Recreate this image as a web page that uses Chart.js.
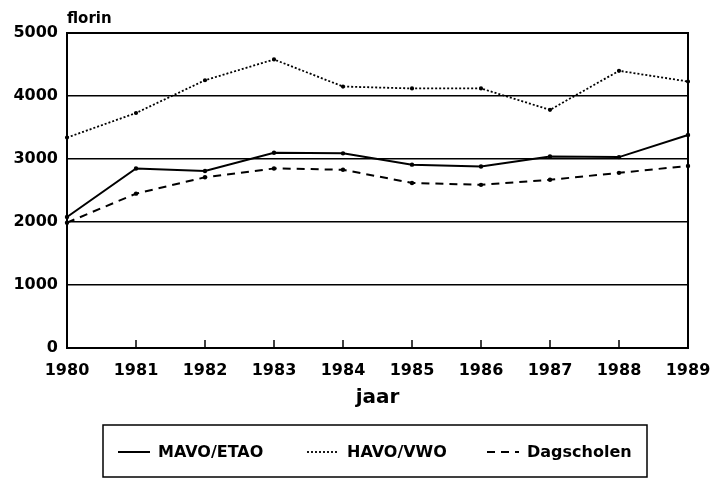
<!DOCTYPE html>
<html>
<head>
<meta charset="utf-8">
<script src="https://cdn.jsdelivr.net/npm/chart.js@4.4.1/dist/chart.umd.min.js"></script>
<style>
  html, body { margin: 0; padding: 0; background: #fff; }
  canvas { display: block; }
</style>
</head>
<body>
<canvas id="salaryChart" width="712" height="483"></canvas>
<script>
// =============================
// Data
// =============================
const years = ["1980", "1981", "1982", "1983", "1984", "1985", "1986", "1987", "1988", "1989"];
const mavoEtao = [2080, 2850, 2810, 3100, 3090, 2910, 2880, 3040, 3030, 3380];
const havoVwo = [3340, 3730, 4250, 4580, 4150, 4120, 4120, 3780, 4400, 4230];
const dagscholen = [1990, 2450, 2710, 2850, 2830, 2620, 2590, 2670, 2780, 2890];
const yTicks = [0, 1000, 2000, 3000, 4000, 5000];

const unitLabel = "florin";
const axisTitle = "jaar";

const FONT = "'DejaVu Sans', sans-serif";

// =============================
// Frame, x ticks, unit label, axis title, boxed legend
// =============================
const decorations = {
  id: "decorations",
  afterDatasetsDraw(chart) {
    const { ctx, chartArea: area, scales } = chart;
    ctx.save();

    // top + right edges of the plot frame
    ctx.strokeStyle = "#000";
    ctx.lineWidth = 2;
    ctx.beginPath();
    ctx.moveTo(area.left, area.top);
    ctx.lineTo(area.right, area.top);
    ctx.lineTo(area.right, area.bottom);
    ctx.stroke();

    // small inward ticks on the year axis
    ctx.lineWidth = 1.5;
    years.forEach((y, i) => {
      if (i === 0 || i === years.length - 1) return;
      const x = scales.x.getPixelForValue(i);
      ctx.beginPath();
      ctx.moveTo(x, area.bottom);
      ctx.lineTo(x, area.bottom - 8);
      ctx.stroke();
    });

    // unit above the value axis
    ctx.fillStyle = "#000";
    ctx.font = "bold 15px " + FONT;
    ctx.textAlign = "left";
    ctx.textBaseline = "alphabetic";
    ctx.fillText(unitLabel, area.left, 23);

    // x axis title
    ctx.font = "bold 20px " + FONT;
    ctx.textAlign = "center";
    ctx.fillText(axisTitle, (area.left + area.right) / 2, 403);

    // legend box
    const box = { left: 103, top: 425, right: 647, bottom: 477 };
    ctx.lineWidth = 1.5;
    ctx.strokeRect(box.left, box.top, box.right - box.left, box.bottom - box.top);

    const midY = (box.top + box.bottom) / 2 + 1;
    const items = [{ x: 118 }, { x: 307 }, { x: 487 }];
    ctx.font = "bold 16px " + FONT;
    ctx.textAlign = "left";
    ctx.textBaseline = "middle";
    chart.data.datasets.forEach((ds, i) => {
      const x0 = items[i].x;
      ctx.strokeStyle = ds.borderColor;
      ctx.lineWidth = ds.borderWidth;
      ctx.setLineDash(ds.borderDash || []);
      ctx.beginPath();
      ctx.moveTo(x0, midY);
      ctx.lineTo(x0 + 32, midY);
      ctx.stroke();
      ctx.setLineDash([]);
      ctx.fillText(ds.label, x0 + 40, midY + 1);
    });

    ctx.restore();
  }
};

new Chart(document.getElementById("salaryChart"), {
  type: "line",
  data: {
    labels: years,
    datasets: [
      {
        label: "MAVO/ETAO",
        data: mavoEtao,
        borderColor: "#000",
        backgroundColor: "#000",
        borderWidth: 2,
        pointRadius: 1.2,
        tension: 0
      },
      {
        label: "HAVO/VWO",
        data: havoVwo,
        borderColor: "#000",
        backgroundColor: "#000",
        borderWidth: 1.8,
        borderDash: [2, 2],
        pointRadius: 1.2,
        tension: 0
      },
      {
        label: "Dagscholen",
        data: dagscholen,
        borderColor: "#000",
        backgroundColor: "#000",
        borderWidth: 2,
        borderDash: [8, 6],
        pointRadius: 1.2,
        tension: 0
      }
    ]
  },
  options: {
    responsive: false,
    animation: false,
    devicePixelRatio: 1,
    layout: { padding: { top: 33, right: 24, left: 0, bottom: 0 } },
    plugins: {
      legend: { display: false },
      tooltip: { enabled: false }
    },
    scales: {
      x: {
        offset: false,
        afterFit: scale => {
          scale.height = 135;
          scale.paddingLeft = 0;
          scale.paddingRight = 0;
        },
        grid: { display: false },
        border: { display: true, color: "#000", width: 2 },
        ticks: {
          color: "#000",
          padding: 5,
          maxRotation: 0,
          autoSkip: false,
          font: { family: FONT, size: 16, weight: "bold" }
        }
      },
      y: {
        min: 0,
        max: 5000,
        afterFit: scale => { scale.width = 67; },
        afterBuildTicks: scale => { scale.ticks = yTicks.map(v => ({ value: v })); },
        grid: {
          color: "#000",
          lineWidth: 1.4,
          drawTicks: false
        },
        border: { display: true, color: "#000", width: 2 },
        ticks: {
          color: "#000",
          padding: 9,
          callback: v => String(v),
          font: { family: FONT, size: 16, weight: "bold" }
        }
      }
    }
  },
  plugins: [decorations]
});
</script>
</body>
</html>
